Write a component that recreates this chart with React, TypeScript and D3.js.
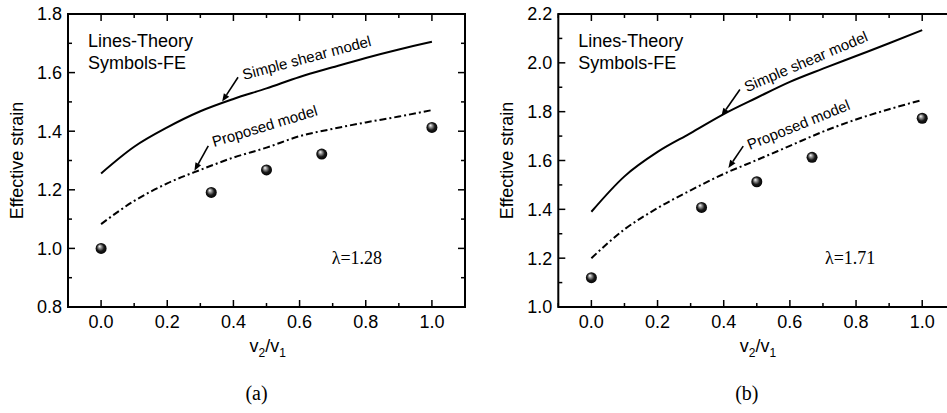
import React from "react";
import * as d3 from "d3";

// ---------- data ----------
const xTheory = [0, 0.1, 0.2, 0.3, 0.4, 0.5, 0.6, 0.7, 0.8, 0.9, 1.0];
const shearA = [1.256, 1.347, 1.413, 1.468, 1.51, 1.546, 1.585, 1.618, 1.65, 1.679, 1.705];
const proposedA = [1.083, 1.162, 1.222, 1.268, 1.31, 1.344, 1.383, 1.408, 1.43, 1.45, 1.472];
const shearB = [1.39, 1.535, 1.635, 1.712, 1.79, 1.857, 1.922, 1.976, 2.028, 2.08, 2.134];
const proposedB = [1.2, 1.318, 1.405, 1.478, 1.545, 1.602, 1.66, 1.718, 1.768, 1.81, 1.848];
const xFE = [0, 0.333, 0.5, 0.667, 1.0];
const feA = [1.0, 1.191, 1.268, 1.322, 1.413];
const feB = [1.12, 1.408, 1.513, 1.613, 1.773];
const xTicks = [0, 0.2, 0.4, 0.6, 0.8, 1.0];
const yTicksA = [0.8, 1.0, 1.2, 1.4, 1.6, 1.8];
const yTicksB = [1.0, 1.2, 1.4, 1.6, 1.8, 2.0, 2.2];
const lambdaA = "λ=1.28";
const lambdaB = "λ=1.71";

const W = 947;
const H = 413;
const SANS = "'Liberation Sans', Arial, sans-serif";
const SERIF = "'Liberation Serif', 'Times New Roman', serif";

type Ann = { head: [number, number]; tail: [number, number]; text: [number, number]; label: string; angle: number };

type PanelProps = {
  left: number;
  yDomain: [number, number];
  yTicks: number[];
  shear: number[];
  proposed: number[];
  fe: number[];
  anns: Ann[];
  lambda: string;
  lambdaPos: [number, number];
  caption: string;
  gid: string;
};

function Panel(p: PanelProps) {
  const top = 14;
  const bottom = 307;
  const width = 397;
  const right = p.left + width;
  const x = d3.scaleLinear().domain([-0.1, 1.1]).range([p.left, right]);
  const y = d3.scaleLinear().domain(p.yDomain).range([bottom, top]);
  const line = d3
    .line<[number, number]>()
    .x((d) => x(d[0]))
    .y((d) => y(d[1]))
    .curve(d3.curveMonotoneX);
  const shearPts = xTheory.map((v, i) => [v, p.shear[i]] as [number, number]);
  const propPts = xTheory.map((v, i) => [v, p.proposed[i]] as [number, number]);
  const xMinor = d3.range(-0.1, 1.101, 0.1).map((v) => Math.round(v * 10) / 10);
  const yMinor = d3
    .range(p.yDomain[0], p.yDomain[1] + 0.001, 0.1)
    .map((v) => Math.round(v * 10) / 10);
  const isMajorX = (v: number) => xTicks.some((t) => Math.abs(t - v) < 1e-6);
  const isMajorY = (v: number) => p.yTicks.some((t) => Math.abs(t - v) < 1e-6);
  const cx = (p.left + right) / 2;

  return (
    <g>
      {/* ticks */}
      {xMinor.map((v) => {
        const len = isMajorX(v) ? 7 : 4;
        return (
          <g key={"xt" + v}>
            <line x1={x(v)} x2={x(v)} y1={bottom} y2={bottom - len} stroke="#000" strokeWidth={1.5} />
            <line x1={x(v)} x2={x(v)} y1={top} y2={top + len} stroke="#000" strokeWidth={1.5} />
          </g>
        );
      })}
      {yMinor.map((v) => {
        const len = isMajorY(v) ? 7 : 4;
        return (
          <g key={"yt" + v}>
            <line x1={p.left} x2={p.left + len} y1={y(v)} y2={y(v)} stroke="#000" strokeWidth={1.5} />
            <line x1={right} x2={right - len} y1={y(v)} y2={y(v)} stroke="#000" strokeWidth={1.5} />
          </g>
        );
      })}
      <rect x={p.left} y={top} width={width} height={bottom - top} fill="none" stroke="#000" strokeWidth={2} />
      {/* tick labels */}
      {xTicks.map((v) => (
        <text key={"xl" + v} x={x(v)} y={bottom + 21} textAnchor="middle" fontFamily={SANS} fontSize={18}>
          {v.toFixed(1)}
        </text>
      ))}
      {p.yTicks.map((v) => (
        <text key={"yl" + v} x={p.left - 6} y={y(v)} dy="0.36em" textAnchor="end" fontFamily={SANS} fontSize={18}>
          {v.toFixed(1)}
        </text>
      ))}
      {/* axis titles */}
      <text
        transform={`translate(${p.left - 45},${(top + bottom) / 2}) rotate(-90)`}
        textAnchor="middle"
        fontFamily={SANS}
        fontSize={18}
      >
        Effective strain
      </text>
      <text x={x(0.5) - 17} y={352} fontFamily={SANS} fontSize={18}>
        v
        <tspan dy={5} fontSize={12}>2</tspan>
        <tspan dy={-5}>/v</tspan>
        <tspan dy={5} fontSize={12}>1</tspan>
      </text>
      <text x={cx - 10} y={400} textAnchor="middle" fontFamily={SERIF} fontSize={20}>
        {p.caption}
      </text>
      {/* curves */}
      <path d={line(shearPts) || ""} fill="none" stroke="#000" strokeWidth={2} />
      <path d={line(propPts) || ""} fill="none" stroke="#000" strokeWidth={2} strokeDasharray="7,3,2,3" />
      {/* FE points */}
      {xFE.map((v, i) => (
        <circle key={"fe" + i} cx={x(v)} cy={y(p.fe[i])} r={5.5} fill={`url(#${p.gid})`} />
      ))}
      {/* annotations */}
      {p.anns.map((a, i) => {
        const hx = x(a.head[0]);
        const hy = y(a.head[1]);
        const tx = x(a.tail[0]);
        const ty = y(a.tail[1]);
        const ang = Math.atan2(hy - ty, hx - tx);
        const L = 8;
        const wdt = 3.2;
        const bx = hx - L * Math.cos(ang);
        const by = hy - L * Math.sin(ang);
        const px = -Math.sin(ang) * wdt;
        const py = Math.cos(ang) * wdt;
        return (
          <g key={"ann" + i}>
            <line x1={tx} y1={ty} x2={bx} y2={by} stroke="#000" strokeWidth={1.6} />
            <polygon points={`${hx},${hy} ${bx + px},${by + py} ${bx - px},${by - py}`} fill="#000" />
            <text
              transform={`translate(${x(a.text[0])},${y(a.text[1])}) rotate(${a.angle})`}
              fontFamily={SANS}
              fontSize={15}
            >
              {a.label}
            </text>
          </g>
        );
      })}
      <text x={p.left + 20} y={top + 33} fontFamily={SANS} fontSize={18}>
        Lines-Theory
      </text>
      <text x={p.left + 20} y={top + 55} fontFamily={SANS} fontSize={18}>
        Symbols-FE
      </text>
      <text x={x(p.lambdaPos[0])} y={y(p.lambdaPos[1])} fontFamily={SERIF} fontSize={18}>
        {p.lambda}
      </text>
    </g>
  );
}

export default function App() {
  return (
    <svg
      width={W}
      height={H}
      style={{ position: "absolute", left: 0, top: 0, background: "#fff" }}
    >
      <defs>
        {["ballA", "ballB"].map((id) => (
          <radialGradient key={id} id={id} cx="50%" cy="50%" r="55%" fx="35%" fy="30%">
            <stop offset="0%" stopColor="#ffffff" />
            <stop offset="25%" stopColor="#9a9a9a" />
            <stop offset="60%" stopColor="#1a1a1a" />
            <stop offset="100%" stopColor="#000000" />
          </radialGradient>
        ))}
      </defs>
      <rect x={0} y={0} width={W} height={H} fill="#fff" />
      <Panel
        left={68}
        yDomain={[0.8, 1.8]}
        yTicks={yTicksA}
        shear={shearA}
        proposed={proposedA}
        fe={feA}
        anns={[
          { head: [0.366, 1.501], tail: [0.414, 1.584], text: [0.432, 1.575], label: "Simple shear model", angle: -15 },
          { head: [0.282, 1.265], tail: [0.324, 1.35], text: [0.341, 1.346], label: "Proposed model", angle: -17 },
        ]}
        lambda={lambdaA}
        lambdaPos={[0.697, 0.947]}
        caption="(a)"
        gid="ballA"
      />
      <Panel
        left={558.3}
        yDomain={[1.0, 2.2]}
        yTicks={yTicksB}
        shear={shearB}
        proposed={proposedB}
        fe={feB}
        anns={[
          { head: [0.393, 1.782], tail: [0.449, 1.891], text: [0.47, 1.88], label: "Simple shear model", angle: -23 },
          { head: [0.414, 1.569], tail: [0.459, 1.659], text: [0.479, 1.643], label: "Proposed model", angle: -22 },
        ]}
        lambda={lambdaB}
        lambdaPos={[0.706, 1.176]}
        caption="(b)"
        gid="ballB"
      />
    </svg>
  );
}
